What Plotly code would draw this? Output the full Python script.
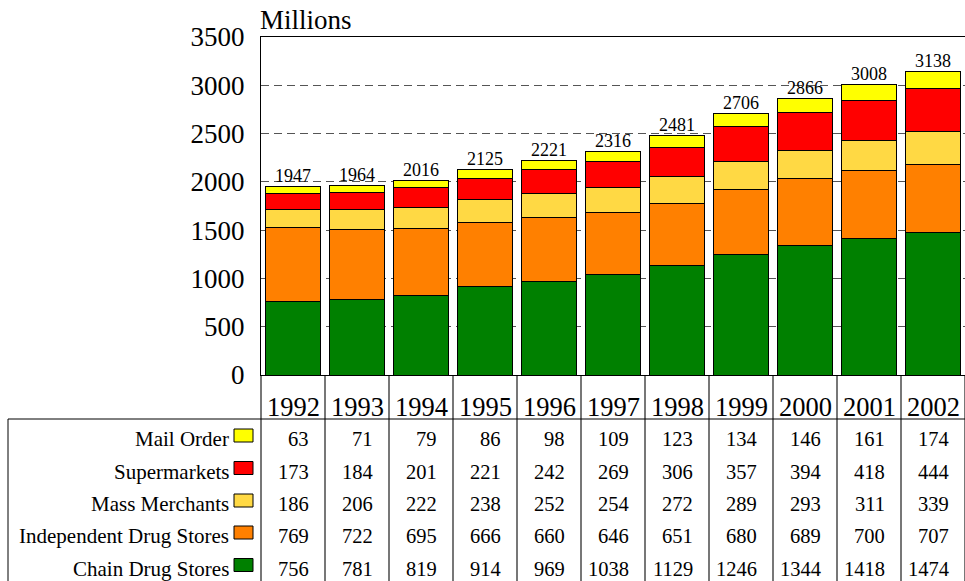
import plotly.graph_objects as go

years = ["1992", "1993", "1994", "1995", "1996", "1997", "1998", "1999", "2000", "2001", "2002"]
chain = [756, 781, 819, 914, 969, 1038, 1129, 1246, 1344, 1418, 1474]
independent = [769, 722, 695, 666, 660, 646, 651, 680, 689, 700, 707]
mass = [186, 206, 222, 238, 252, 254, 272, 289, 293, 311, 339]
supermarkets = [173, 184, 201, 221, 242, 269, 306, 357, 394, 418, 444]
mail = [63, 71, 79, 86, 98, 109, 123, 134, 146, 161, 174]
totals = [1947, 1964, 2016, 2125, 2221, 2316, 2481, 2706, 2866, 3008, 3138]

series = [
    ("Chain Drug Stores", chain, "#008000"),
    ("Independent Drug Stores", independent, "#FF8000"),
    ("Mass Merchants", mass, "#FFD944"),
    ("Supermarkets", supermarkets, "#FF0000"),
    ("Mail Order", mail, "#FFFF00"),
]

FONT = "Liberation Serif, Times New Roman, serif"
W, H = 965, 581
L, R, T, B = 261, 0, 37, 206
PW, PH = W - L - R, H - T - B
Y0 = H - B  # pixel y of plot bottom


def py(p):
    return (Y0 - p) / PH


def px(p):
    return (p - L) / PW


fig = go.Figure()
for name, vals, col in series:
    fig.add_trace(go.Bar(
        x=years, y=vals, name=name, marker=dict(color=col, line=dict(color="#000000", width=1)),
        hoverinfo="skip",
    ))

fig.add_trace(go.Scatter(
    x=years, y=totals, mode="text", text=[str(t) for t in totals],
    textposition="top center", textfont=dict(family=FONT, size=18, color="#000"),
    hoverinfo="skip", showlegend=False,
))

annotations = []
shapes = []

annotations.append(dict(
    text="Millions", xref="paper", yref="paper", x=px(258), y=py(20), xanchor="left", yanchor="middle",
    showarrow=False, font=dict(family=FONT, size=27, color="#000"),
))

# year labels
for i, yr in enumerate(years):
    annotations.append(dict(
        text=yr, xref="x", yref="paper", x=i, y=py(407), xanchor="center", yanchor="middle",
        showarrow=False, font=dict(family=FONT, size=26.5, color="#000"),
    ))

# table rows (top to bottom)
rows = [series[4], series[3], series[2], series[1], series[0]]
row_centers = [439, 471.5, 504, 536, 568.5]
for (name, vals, col), rc in zip(rows, row_centers):
    annotations.append(dict(
        text=name, xref="paper", yref="paper", x=px(231), y=py(rc), xanchor="right", yanchor="middle",
        showarrow=False, font=dict(family=FONT, size=21, color="#000"),
    ))
    shapes.append(dict(
        type="rect", xref="paper", yref="paper", x0=px(234), x1=px(253),
        y0=py(rc - 3.5 + 6.5), y1=py(rc - 3.5 - 6.5),
        fillcolor=col, line=dict(color="#000", width=1), layer="above",
    ))
    for i, v in enumerate(vals):
        annotations.append(dict(
            text=str(v), xref="x", yref="paper", x=i, y=py(rc), xanchor="right", yanchor="middle",
            xshift=18, showarrow=False, font=dict(family=FONT, size=20.5, color="#000"),
        ))

# table lines
shapes.append(dict(type="line", xref="paper", yref="paper", x0=px(8), x1=1.0, y0=py(419), y1=py(419),
                   line=dict(color="#000", width=1)))
shapes.append(dict(type="line", xref="paper", yref="paper", x0=px(8), x1=px(8), y0=py(419), y1=py(H + 5),
                   line=dict(color="#000", width=1)))

fig.update_layout(
    width=W, height=H,
    margin=dict(l=L, r=R, t=T, b=B, autoexpand=False),
    paper_bgcolor="#fff", plot_bgcolor="#fff",
    barmode="stack", bargap=0.15,
    showlegend=False,
    font=dict(family=FONT, color="#000"),
    annotations=annotations, shapes=shapes,
    xaxis=dict(
        type="category", showticklabels=False, showgrid=False, zeroline=False, automargin=False,
        showline=True, linecolor="#000", linewidth=1, mirror=True,
        ticks="outside", tickson="boundaries", ticklen=215, tickcolor="#777", tickwidth=1.5,
        range=[-0.5, 10.5], fixedrange=True,
    ),
    yaxis=dict(
        range=[0, 3500], dtick=500, tick0=0, showgrid=True, gridcolor="#555", griddash="8px,5px",
        gridwidth=1, zeroline=False, showline=True, linecolor="#000", linewidth=1, automargin=False,
        ticks="", ticklabelstandoff=10, tickfont=dict(family=FONT, size=27, color="#000"),
        fixedrange=True,
    ),
)

fig.write_html(
    "out.html",
    config={"displayModeBar": False, "staticPlot": True},
    post_script="document.body.style.margin='0';document.body.style.overflow='hidden';",
)
